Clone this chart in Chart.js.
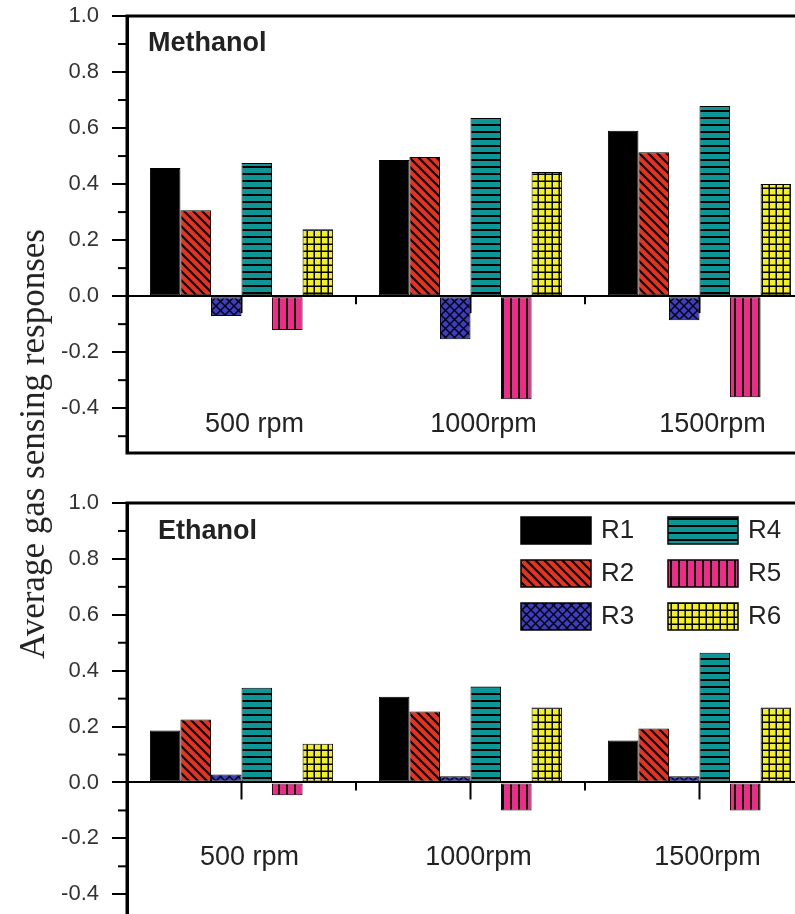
<!DOCTYPE html>
<html>
<head>
<meta charset="utf-8">
<script src="https://cdn.jsdelivr.net/npm/chart.js@4"></script>
<style>
  html, body { margin: 0; padding: 0; background: #fff; overflow: hidden; width: 795px; height: 914px; }
  canvas { position: absolute; left: 0; }
  #top { top: 0; }
  #bottom { top: 457px; }
  #ytitle {
    position: absolute; left: 33px; top: 444px;
    transform: translate(-50%, -50%) rotate(-90deg);
    font-family: "Liberation Serif", serif; font-size: 35px; color: #222; white-space: nowrap;
  }
</style>
</head>
<body>
<canvas id="top" width="830" height="457"></canvas>
<canvas id="bottom" width="830" height="486"></canvas>
<div id="ytitle">Average gas sensing responses</div>
<script>
const categories = ["500 rpm", "1000rpm", "1500rpm"]
const seriesNames = ["R1", "R2", "R3", "R4", "R5", "R6"]

// methanol, one array per series (500, 1000, 1500 rpm)
const methR1 = [0.457, 0.486, 0.590]
const methR2 = [0.307, 0.497, 0.514]
const methR3 = [-0.071, -0.154, -0.086]
const methR4 = [0.475, 0.636, 0.679]
const methR5 = [-0.121, -0.368, -0.361]
const methR6 = [0.239, 0.443, 0.400]

// ethanol
const ethR1 = [0.186, 0.307, 0.150]
const ethR2 = [0.225, 0.254, 0.193]
const ethR3 = [0.029, 0.022, 0.022]
const ethR4 = [0.339, 0.343, 0.464]
const ethR5 = [-0.046, -0.100, -0.100]
const ethR6 = [0.139, 0.268, 0.268]

const yTicks = [-0.4, -0.2, 0.0, 0.2, 0.4, 0.6, 0.8, 1.0]

function makePattern(bg, draw, w, h) {
  const c = document.createElement("canvas")
  c.width = w; c.height = h
  const g = c.getContext("2d")
  g.fillStyle = bg
  g.fillRect(0, 0, w, h)
  g.strokeStyle = "#000"
  g.fillStyle = "#000"
  draw(g, w, h)
  return g.createPattern(c, "repeat")
}

const fills = [
  "#000000",
  makePattern("#e8321e", (g, w, h) => {
    g.lineWidth = 2.2
    g.beginPath()
    g.moveTo(-1, -1); g.lineTo(w + 1, h + 1)
    g.moveTo(-w - 1, -1); g.lineTo(1, h + 1)
    g.moveTo(w - 1, -1); g.lineTo(2 * w + 1, h + 1)
    g.stroke()
  }, 9, 9),
  makePattern("#3c3cc4", (g, w, h) => {
    g.lineWidth = 1.4
    g.beginPath()
    g.moveTo(0, 0); g.lineTo(w, h)
    g.moveTo(w, 0); g.lineTo(0, h)
    g.stroke()
  }, 9, 9),
  makePattern("#0e9696", (g, w, h) => { g.fillRect(0, 5, w, 2) }, 7, 7),
  makePattern("#f02a8a", (g, w, h) => { g.fillRect(6, 0, 2, h) }, 8, 8),
  makePattern("#f2f020", (g, w, h) => {
    g.fillRect(5.5, 0, 1.5, h)
    g.fillRect(0, 5.5, w, 1.5)
  }, 7, 7)
]

function isMajor(v) { return Math.abs(Math.round(v * 10)) % 2 === 0 }

const panelPlugin = {
  id: "panel",
  beforeDatasetsDraw(chart, args, opts) {
    const ctx = chart.ctx
    const x = chart.scales.x, y = chart.scales.y
    const area = chart.chartArea
    const y0 = y.getPixelForValue(0)
    ctx.save()
    ctx.strokeStyle = "#000"
    ctx.lineWidth = 2
    // minor ticks on y axis
    y.ticks.forEach(t => {
      if (!isMajor(t.value)) {
        const py = y.getPixelForValue(t.value)
        ctx.beginPath(); ctx.moveTo(area.left - 9, py); ctx.lineTo(area.left, py); ctx.stroke()
      }
    })
    // ticks on the zero line
    for (let i = 0; i < categories.length; i++) {
      const cx = x.getPixelForValue(i)
      ctx.beginPath(); ctx.moveTo(cx, y0); ctx.lineTo(cx, y0 + 17); ctx.stroke()
      if (i > 0) {
        const bx = (x.getPixelForValue(i - 1) + cx) / 2
        ctx.beginPath(); ctx.moveTo(bx, y0); ctx.lineTo(bx, y0 + 8); ctx.stroke()
      }
    }
    ctx.restore()
  },
  afterDraw(chart, args, opts) {
    const ctx = chart.ctx
    const x = chart.scales.x, y = chart.scales.y
    const area = chart.chartArea
    ctx.save()
    ctx.strokeStyle = "#000"
    ctx.lineWidth = 3
    ctx.strokeRect(area.left, area.top, area.right - area.left, area.bottom - area.top)

    ctx.fillStyle = "#222"
    ctx.font = "bold 27px 'Liberation Sans', Arial, sans-serif"
    ctx.textBaseline = "middle"
    ctx.textAlign = "left"
    ctx.fillText(opts.title, area.left + opts.titleX, area.top + opts.titleY)

    ctx.font = "27px 'Liberation Sans', Arial, sans-serif"
    ctx.textAlign = "center"
    categories.forEach((c, i) => {
      ctx.fillText(c, x.getPixelForValue(i) + opts.labelDx, y.getPixelForValue(opts.labelAt))
    })

    if (opts.legend) {
      ctx.font = "26px 'Liberation Sans', Arial, sans-serif"
      ctx.textAlign = "left"
      chart.data.datasets.forEach((ds, i) => {
        const col = Math.floor(i / 3), row = i % 3
        const bx = area.left + 394 + col * 147
        const by = area.top + 14 + row * 43
        ctx.fillStyle = ds.backgroundColor
        ctx.fillRect(bx, by, 70, 27)
        ctx.lineWidth = 1.5
        ctx.strokeRect(bx, by, 70, 27)
        ctx.fillStyle = "#222"
        ctx.fillText(ds.label, bx + 80, by + 14)
      })
    }
    ctx.restore()
  }
}

function buildChart(canvasId, seriesData, panelOpts, padTop) {
  return new Chart(document.getElementById(canvasId), {
    type: "bar",
    data: {
      labels: categories,
      datasets: seriesNames.map((name, i) => ({
        label: name,
        data: seriesData[i],
        backgroundColor: fills[i],
        borderColor: "#000",
        borderWidth: 1,
        borderSkipped: false,
        categoryPercentage: 0.8,
        barPercentage: 1.0
      }))
    },
    options: {
      responsive: false,
      animation: false,
      devicePixelRatio: 1,
      layout: { padding: { top: padTop, right: 16, bottom: 4, left: 0 } },
      scales: {
        x: { display: false, offset: true },
        y: {
          min: -0.56, max: 1.0,
          afterFit: s => { s.width = 127; s.paddingTop = 0; s.paddingBottom = 0 },
          border: { display: true, width: 3, color: "#000" },
          grid: {
            drawOnChartArea: true,
            color: c => (c.tick && Math.abs(c.tick.value) < 1e-9) ? "#000" : "rgba(0,0,0,0)",
            lineWidth: 2,
            tickLength: 15,
            tickWidth: 2,
            tickColor: c => (c.tick && isMajor(c.tick.value)) ? "#000" : "rgba(0,0,0,0)"
          },
          ticks: {
            stepSize: 0.1,
            autoSkip: false,
            includeBounds: false,
            padding: 13,
            color: "#333",
            font: { family: "'Liberation Sans', Arial, sans-serif", size: 22 },
            callback: v => {
              const r = Math.round(v * 10) / 10
              return (isMajor(v) && yTicks.includes(r)) ? r.toFixed(1) : ""
            }
          }
        }
      },
      plugins: {
        legend: { display: false },
        tooltip: { enabled: false },
        panel: panelOpts
      }
    },
    plugins: [panelPlugin]
  })
}

buildChart("top", [methR1, methR2, methR3, methR4, methR5, methR6],
  { title: "Methanol", titleX: 21, titleY: 28, labelAt: -0.46, labelDx: 13, legend: false }, 16)
buildChart("bottom", [ethR1, ethR2, ethR3, ethR4, ethR5, ethR6],
  { title: "Ethanol", titleX: 31, titleY: 29, labelAt: -0.27, labelDx: 8, legend: true }, 46)
</script>
</body>
</html>
